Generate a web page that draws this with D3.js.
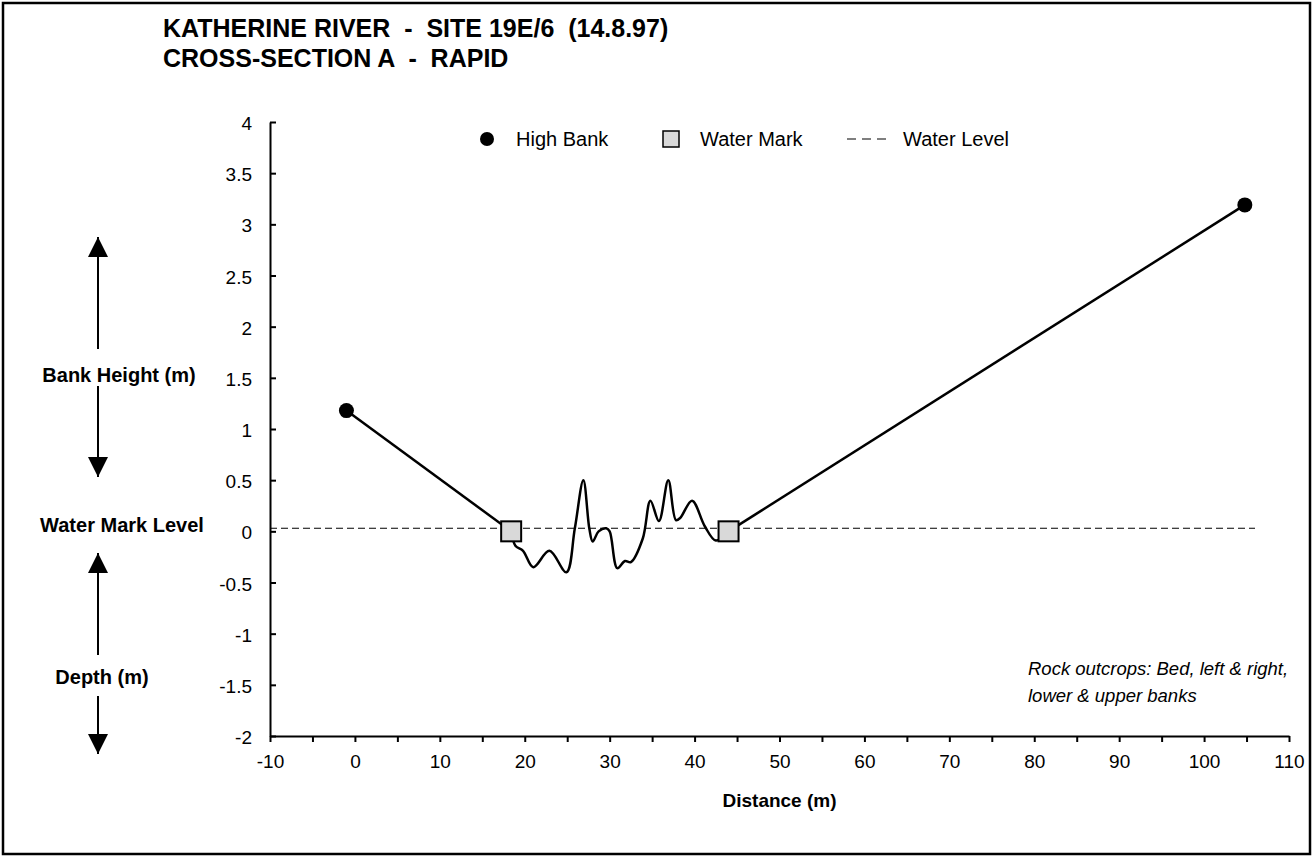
<!DOCTYPE html>
<html>
<head>
<meta charset="utf-8">
<script src="https://cdn.jsdelivr.net/npm/d3@7"></script>
<style>
  body { margin: 0; background: #fff; }
  text { font-family: "Liberation Sans", Arial, sans-serif; fill: #000; }
</style>
</head>
<body>
<svg id="chart" width="1313" height="858"></svg>
<script>
// High bank points (distance m, height m)
var highBankX = [-1, 104.8];
var highBankY = [1.18, 3.19];

// Water mark points
var waterMarkX = [18.4, 44];
var waterMarkY = [0, 0];

// Water level (dashed)
var waterLevelX = [-10, 106];
var waterLevelY = [0.03, 0.03];

// Bed profile between the water marks
var bedX = [18.4, 18.9, 19.8, 21.0, 22.9, 24.9, 25.9, 26.9, 27.6, 28.0, 28.7, 29.6, 30.0, 30.9,
            31.8, 32.5, 33.9, 34.8, 35.8, 36.9, 37.8, 38.3, 39.7, 41.2, 42.5, 44.0];
var bedY = [0.00, -0.14, -0.19, -0.35, -0.19, -0.40, 0.03, 0.50, 0.03, -0.10, 0.00, 0.03, 0.00, -0.36,
            -0.29, -0.30, -0.07, 0.30, 0.10, 0.50, 0.11, 0.13, 0.30, 0.05, -0.09, 0.00];

var xTicks = d3.range(-10, 111, 5);
var yTicks = d3.range(-2, 4.01, 0.5);

var svg = d3.select("#chart");

//outer frame
svg.append("rect")
    .attr("x", 3).attr("y", 3)
    .attr("width", 1307).attr("height", 851)
    .attr("fill", "none")
    .attr("stroke", "#000")
    .attr("stroke-width", 2.5);

var x = d3.scaleLinear().domain([-10, 110]).range([270, 1289]);
var y = d3.scaleLinear().domain([-2, 4]).range([736, 122]);

// titles
svg.append("text").attr("x", 163).attr("y", 37)
    .style("font-size", "25px").style("font-weight", "bold")
    .attr("xml:space", "preserve")
    .text("KATHERINE RIVER  -  SITE 19E/6  (14.8.97)");
svg.append("text").attr("x", 163).attr("y", 67)
    .style("font-size", "25px").style("font-weight", "bold")
    .attr("xml:space", "preserve")
    .text("CROSS-SECTION A  -  RAPID");

// axes
var xAxis = d3.axisBottom(x)
    .tickValues(xTicks)
    .tickSize(6)
    .tickSizeOuter(0)
    .tickPadding(13)
    .tickFormat(function (d) { return d % 10 === 0 ? String(d) : ""; });
var yAxis = d3.axisLeft(y)
    .tickValues(yTicks)
    .tickSize(-6)
    .tickSizeOuter(0)
    .tickPadding(18)
    .tickFormat(function (d) { return String(+d.toFixed(1)); });

var gx = svg.append("g").attr("transform", "translate(0," + y(-2) + ")").call(xAxis);
var gy = svg.append("g").attr("transform", "translate(" + x(-10) + ",0)").call(yAxis);
[gx, gy].forEach(function (g) {
    g.select(".domain").attr("stroke", "#000").attr("stroke-width", 2);
    g.selectAll(".tick line").attr("stroke", "#000").attr("stroke-width", 2);
    g.selectAll(".tick text")
        .style("font-size", "19px")
        .style("font-family", "'Liberation Sans', Arial, sans-serif")
        .attr("fill", "#000");
});
gy.selectAll(".tick text").attr("dy", "0.4em");

svg.append("text")
    .attr("x", (x(-10) + x(110)) / 2).attr("y", 807)
    .attr("text-anchor", "middle")
    .style("font-size", "19px").style("font-weight", "bold")
    .text("Distance (m)");

// left side annotations with arrows
var defs = svg.append("defs");
defs.append("marker")
    .attr("id", "arrowHead")
    .attr("viewBox", "0 0 20 20")
    .attr("refX", 20).attr("refY", 10)
    .attr("markerWidth", 20).attr("markerHeight", 20)
    .attr("markerUnits", "userSpaceOnUse")
    .attr("orient", "auto")
    .append("path")
    .attr("d", "M0,0L20,10L0,20Z")
    .attr("fill", "#000");

function arrow(x0, y0, y1) {
    svg.append("line")
        .attr("x1", x0).attr("y1", y0)
        .attr("x2", x0).attr("y2", y1)
        .attr("stroke", "#000").attr("stroke-width", 2)
        .attr("marker-end", "url(#arrowHead)");
}
arrow(98, 349, 237);
arrow(98, 386, 477);
arrow(98, 655, 553);
arrow(98, 696, 754);

svg.append("text").attr("x", 119).attr("y", 382)
    .attr("text-anchor", "middle")
    .style("font-size", "20px").style("font-weight", "bold")
    .text("Bank Height (m)");
svg.append("text").attr("x", 122).attr("y", 532)
    .attr("text-anchor", "middle")
    .style("font-size", "20px").style("font-weight", "bold")
    .text("Water Mark Level");
svg.append("text").attr("x", 102).attr("y", 684)
    .attr("text-anchor", "middle")
    .style("font-size", "20px").style("font-weight", "bold")
    .text("Depth (m)");

// note
var note = svg.append("text").attr("x", 1028).attr("y", 675)
    .style("font-size", "18.5px").style("font-style", "italic");
note.append("tspan").attr("x", 1028).text("Rock outcrops: Bed, left & right,");
note.append("tspan").attr("x", 1028).attr("dy", 27).text("lower & upper banks");

// water level
var waterLevel = waterLevelX.map(function (d, i) { return [d, waterLevelY[i]]; });
svg.append("path")
    .attr("d", d3.line().x(function (d) { return x(d[0]); }).y(function (d) { return y(d[1]); })(waterLevel))
    .attr("fill", "none")
    .attr("stroke", "#000")
    .attr("stroke-width", 1.2)
    .attr("stroke-dasharray", "7,4");

// profile: straight bank segments + smoothed bed
var line = d3.line().x(function (d) { return x(d[0]); }).y(function (d) { return y(d[1]); });
var leftBank = [[highBankX[0], highBankY[0]], [waterMarkX[0], waterMarkY[0]]];
var rightBank = [[waterMarkX[1], waterMarkY[1]], [highBankX[1], highBankY[1]]];
var bed = bedX.map(function (d, i) { return [d, bedY[i]]; });

[leftBank, rightBank].forEach(function (seg) {
    svg.append("path").attr("d", line(seg))
        .attr("fill", "none").attr("stroke", "#000").attr("stroke-width", 2.5);
});
svg.append("path")
    .attr("d", line.curve(d3.curveCatmullRom.alpha(0.5))(bed))
    .attr("fill", "none").attr("stroke", "#000").attr("stroke-width", 2.5)
    .attr("stroke-linejoin", "round");

// markers
svg.selectAll(".bank").data(highBankX).enter().append("circle")
    .attr("class", "bank")
    .attr("cx", function (d) { return x(d); })
    .attr("cy", function (d, i) { return y(highBankY[i]); })
    .attr("r", 7.5)
    .attr("fill", "#000");

svg.selectAll(".mark").data(waterMarkX).enter().append("rect")
    .attr("class", "mark")
    .attr("x", function (d) { return x(d) - 10; })
    .attr("y", function (d, i) { return y(waterMarkY[i]) - 10; })
    .attr("width", 20).attr("height", 20)
    .attr("fill", "#d9d9d9")
    .attr("stroke", "#000").attr("stroke-width", 2);

// legend
var lg = svg.append("g");
lg.append("circle").attr("cx", 487).attr("cy", 139).attr("r", 7).attr("fill", "#000");
lg.append("text").attr("x", 516).attr("y", 146).style("font-size", "20px").text("High Bank");
lg.append("rect").attr("x", 663).attr("y", 131).attr("width", 16).attr("height", 16)
    .attr("fill", "#d9d9d9").attr("stroke", "#000").attr("stroke-width", 1.5);
lg.append("text").attr("x", 700).attr("y", 146).style("font-size", "20px").text("Water Mark");
lg.append("line").attr("x1", 847).attr("x2", 886).attr("y1", 139).attr("y2", 139)
    .attr("stroke", "#000").attr("stroke-width", 1.2).attr("stroke-dasharray", "9,6");
lg.append("text").attr("x", 903).attr("y", 146).style("font-size", "20px").text("Water Level");
</script>
</body>
</html>
